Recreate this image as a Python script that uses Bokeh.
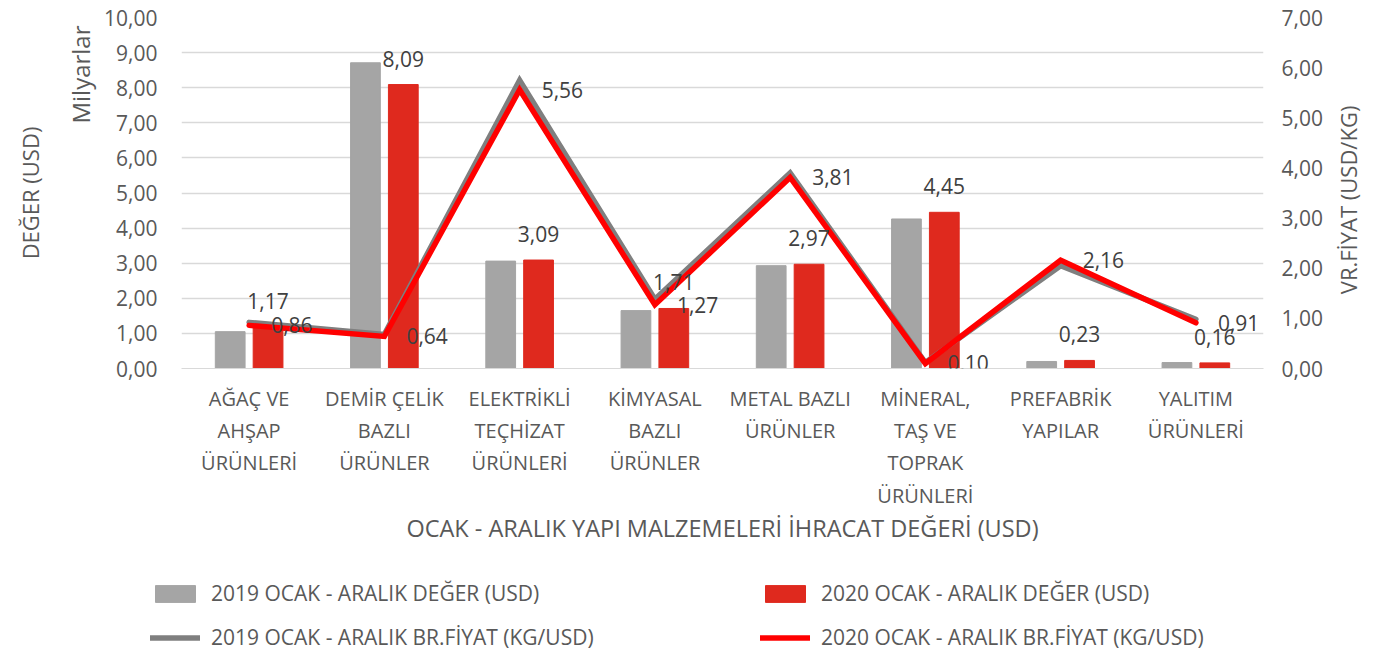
import math
from bokeh.plotting import figure
from bokeh.layouts import column
from bokeh.models import (ColumnDataSource, Range1d, LinearAxis, FactorRange, Legend,
                          LegendItem, LabelSet, FixedTicker, CustomJSTickFormatter, Title)
from bokeh.transform import dodge
from bokeh.core.properties import value
from bokeh.embed import file_html
from bokeh.resources import INLINE

categories = ["AĞAÇ VE\nAHŞAP\nÜRÜNLERİ", "DEMİR ÇELİK\nBAZLI\nÜRÜNLER",
              "ELEKTRİKLİ\nTEÇHİZAT\nÜRÜNLERİ", "KİMYASAL\nBAZLI\nÜRÜNLER",
              "METAL BAZLI\nÜRÜNLER", "MİNERAL,\nTAŞ VE\nTOPRAK\nÜRÜNLERİ",
              "PREFABRİK\nYAPILAR", "YALITIM\nÜRÜNLERİ"]
value_2019 = [1.05, 8.71, 3.06, 1.65, 2.93, 4.26, 0.20, 0.17]
value_2020 = [1.17, 8.09, 3.09, 1.71, 2.97, 4.45, 0.23, 0.16]
price_2019 = [0.92, 0.68, 5.75, 1.38, 3.90, 0.12, 2.05, 0.98]
price_2020 = [0.86, 0.64, 5.56, 1.27, 3.81, 0.10, 2.16, 0.91]
left_ticks = [0, 1, 2, 3, 4, 5, 6, 7, 8, 9, 10]
right_ticks = [0, 1, 2, 3, 4, 5, 6, 7]
series_names = ["2019 OCAK - ARALIK DEĞER (USD)", "2020 OCAK - ARALIK DEĞER (USD)",
                "2019 OCAK - ARALIK BR.FİYAT (KG/USD)", "2020 OCAK - ARALIK BR.FİYAT (KG/USD)"]

FONT = "Open Sans"
TXT = "#595959"
GRAY_BAR = "#A5A5A5"
RED_BAR = "#DF291E"
GRAY_LINE = "#7F7F7F"
RED_LINE = "#FF0000"

def fmt(v):
    return f"{v:.2f}".replace(".", ",")

src = ColumnDataSource(dict(
    cat=categories, v2019=value_2019, v2020=value_2020,
    p2019=price_2019, p2020=price_2020,
    lv2020=[fmt(v) for v in value_2020], lp2020=[fmt(v) for v in price_2020],
))

p = figure(width=1380, height=560, x_range=FactorRange(*categories, range_padding=0),
           y_range=Range1d(0, 10), output_backend="svg", toolbar_location=None,
           min_border_left=180, min_border_right=113, min_border_top=17, min_border_bottom=192)
p.x_range.factor_padding = 0
p.outline_line_color = None
p.extra_y_ranges = {"right": Range1d(0, 7)}

tick_fmt = CustomJSTickFormatter(code="return tick.toFixed(2).replace('.', ',');")

yl = p.yaxis[0]
yl.ticker = FixedTicker(ticks=left_ticks)
yl.formatter = tick_fmt
ra = LinearAxis(y_range_name="right", ticker=FixedTicker(ticks=right_ticks), formatter=tick_fmt)
p.add_layout(ra, "right")
for ax, so in ((yl, 24), (ra, 18)):
    ax.axis_line_color = None
    ax.major_tick_line_color = None
    ax.minor_tick_line_color = None
    ax.major_tick_out = 0
    ax.major_tick_in = 0
    ax.major_label_standoff = so
    ax.major_label_text_font = FONT
    ax.major_label_text_font_size = "21px"
    ax.major_label_text_color = TXT
    ax.axis_label_text_font = FONT
    ax.axis_label_text_font_size = "22px"
    ax.axis_label_text_font_style = "normal"
    ax.axis_label_text_color = TXT

# right-axis title reads bottom-to-top like the reference; leading no-break spaces
# lift it so that it sits where the reference has it
ra.axis_label = "\u00a0" * 13 + "VR.FİYAT (USD/KG)"
ra.axis_label_orientation = math.pi / 2
ra.axis_label_align = "start"
ra.axis_label_standoff = 22

p.add_layout(Title(text="Milyarlar", align="right", offset=8, text_font=FONT,
                   text_font_size="24px", text_font_style="normal", text_color=TXT), "left")
p.add_layout(Title(text="DEĞER (USD)", align="center", standoff=24, text_font=FONT,
                   text_font_size="22px", text_font_style="normal", text_color=TXT), "left")

xa = p.xaxis[0]
xa.axis_line_color = "#D9D9D9"
xa.major_tick_line_color = None
xa.major_tick_out = 0
xa.major_tick_in = 0
xa.major_label_standoff = 16
xa.major_label_text_font = FONT
xa.major_label_text_font_size = "20px"
xa.major_label_text_color = TXT
xa.axis_label = "OCAK - ARALIK YAPI MALZEMELERİ İHRACAT DEĞERİ (USD)"
xa.axis_label_text_font = FONT
xa.axis_label_text_font_size = "23.5px"
xa.axis_label_text_font_style = "normal"
xa.axis_label_text_color = TXT
xa.axis_label_standoff = 0

p.xgrid.visible = False
p.ygrid.grid_line_color = "#D9D9D9"
p.ygrid.grid_line_width = 1.5

bar_style_19 = dict(color=GRAY_BAR)
bar_style_20 = dict(color=RED_BAR)
line_style_19 = dict(color=GRAY_LINE, line_width=5.5, line_join="miter", line_cap="round")
line_style_20 = dict(color=RED_LINE, line_width=5.5, line_join="miter", line_cap="round")

p.vbar(x=dodge("cat", -0.14, range=p.x_range), top="v2019", width=0.22, source=src, **bar_style_19)
p.vbar(x=dodge("cat", 0.14, range=p.x_range), top="v2020", width=0.22, source=src, **bar_style_20)
p.line(x="cat", y="p2019", source=src, y_range_name="right", **line_style_19)
p.line(x="cat", y="p2020", source=src, y_range_name="right", **line_style_20)

bar_labels = LabelSet(x=dodge("cat", 0.14, range=p.x_range), y="v2020", text="lv2020",
                      source=src, y_offset=26, text_align="center", text_baseline="middle",
                      text_font=value(FONT), text_font_size="21px", text_color="#404040")
line_labels = LabelSet(x="cat", y="p2020", text="lp2020", source=src, y_range_name="right",
                       x_offset=22, text_align="left", text_baseline="middle",
                       text_font=value(FONT), text_font_size="21px", text_color="#404040")
p.add_layout(bar_labels)
p.add_layout(line_labels)

# legend strip below the chart (its own canvas so nothing is clipped)
lf = figure(width=1380, height=91, output_backend="svg", toolbar_location=None,
            x_range=Range1d(0, 1), y_range=Range1d(0, 1), x_axis_type=None, y_axis_type=None,
            min_border=0)
lf.frame_align = False
lf.outline_line_color = None
lf.grid.visible = False
# legend swatches only: the marks sit outside the strip's visible range
g19 = lf.vbar(x=[5], top=[5], width=0.1, **bar_style_19)
g20 = lf.vbar(x=[5], top=[5], width=0.1, **bar_style_20)
k19 = lf.line(x=[5, 6], y=[5, 5], **line_style_19)
k20 = lf.line(x=[5, 6], y=[5, 5], **line_style_20)
legend = Legend(items=[LegendItem(label=series_names[0], renderers=[g19]),
                       LegendItem(label=series_names[2], renderers=[k19]),
                       LegendItem(label=series_names[1], renderers=[g20]),
                       LegendItem(label=series_names[3], renderers=[k20])],
                ncols=2, orientation="vertical", location=(150, 0),
                padding=0, margin=0, border_line_alpha=0, background_fill_alpha=0,
                glyph_width=50, glyph_height=21, label_standoff=11, spacing=16,
                label_width=533, label_text_font=FONT, label_text_font_size="21px",
                label_text_color=TXT)
lf.add_layout(legend)

open("out.html", "w").write(file_html(column(p, lf, spacing=0), INLINE))
